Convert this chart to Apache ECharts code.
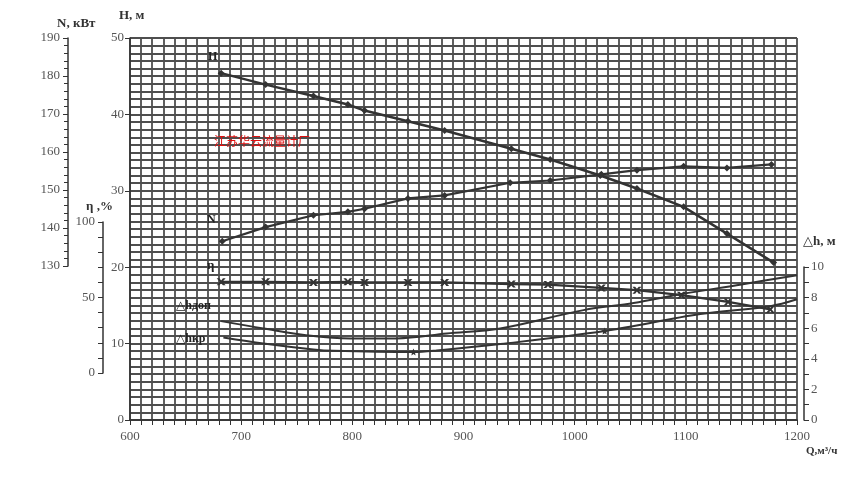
<!DOCTYPE html>
<html><head><meta charset="utf-8">
<script src="https://cdn.jsdelivr.net/npm/echarts@6/dist/echarts.min.js"></script>
<style>html,body{margin:0;padding:0;background:#fff}#c{width:855px;height:483px}</style>
</head><body><div id="c"></div>
<script>
// ---- data ----
const qH   = [682, 722, 765, 796, 811, 850, 883, 943, 978, 1023, 1056, 1098, 1137, 1179];
const hVal = [45.4, 43.9, 42.4, 41.3, 40.5, 39.1, 37.9, 35.5, 34.1, 32.0, 30.3, 27.9, 24.4, 20.6];

const qN   = [683, 722, 765, 796, 811, 850, 883, 942, 978, 1024, 1056, 1098, 1137, 1177];
const nVal = [136.8, 140.5, 143.6, 144.5, 145.3, 148.0, 148.8, 152.1, 152.7, 154.3, 155.4, 156.4, 156.0, 156.9];

const qEta   = [682, 722, 765, 796, 811, 850, 883, 943, 976, 1024, 1056, 1096, 1138, 1176];
const etaVal = [60.5, 60.5, 60.1, 60.5, 60.1, 60.1, 60.1, 59.0, 58.7, 56.5, 55.0, 51.7, 47.2, 42.2];

const qDop   = [682, 720, 765, 798, 840, 885, 933, 1008, 1053, 1096, 1150, 1200];
const dopVal = [6.47, 5.99, 5.49, 5.34, 5.34, 5.66, 5.99, 7.19, 7.65, 8.24, 8.87, 9.48];

const qKr   = [684, 720, 765, 783, 855, 876, 933, 1027, 1113, 1176, 1200];
const krVal = [5.40, 5.01, 4.62, 4.53, 4.45, 4.55, 4.97, 5.82, 6.93, 7.45, 7.90];
const krMarked = [855, 1027];

const xTicks = [600, 700, 800, 900, 1000, 1100, 1200];

// ---- chart ----
const pair = (xs, ys) => xs.map((x, i) => [x, ys[i]]);
const serif = '"Liberation Serif","DejaVu Serif",serif';
const gridCol = '#4f4f4f';
const gridW = 1.8;
const lineCol = '#333';
const lbl = {color: '#555', fontFamily: serif, fontSize: 13};
const asterisk = 'path://M0,0L3,0L5,3L7,0L10,0L6.5,5L10,10L7,10L5,7L3,10L0,10L3.5,5Z';
const star = 'path://M5,0L6.5,3.5L10,4L7.3,6.3L8,10L5,8L2,10L2.7,6.3L0,4L3.5,3.5Z';

const chart = echarts.init(document.getElementById('c'), null, {renderer: 'canvas'});
chart.setOption({
  animation: false,
  backgroundColor: '#fff',
  grid: [
    {left: 130, top: 38, width: 667, height: 382},
    {left: 68, top: 38, width: 1, height: 228},
    {left: 103, top: 222, width: 1, height: 151},
    {left: 804, top: 267, width: 1, height: 153}
  ],
  xAxis: [
    {gridIndex: 0, type: 'value', min: 600, max: 1200, interval: 100,
     axisLine: {show: true, onZero: false, lineStyle: {color: lineCol, width: 1.5}},
     axisTick: {show: true, length: 5, lineStyle: {color: lineCol}},
     minorTick: {show: true, splitNumber: 10, length: 5, lineStyle: {color: lineCol}},
     axisLabel: Object.assign({margin: 10, formatter: v => xTicks.includes(v) ? String(v) : ''}, lbl),
     splitLine: {show: true, lineStyle: {color: gridCol, width: gridW}},
     minorSplitLine: {show: true, lineStyle: {color: gridCol, width: gridW}}},
    {gridIndex: 1, type: 'value', show: false, min: 0, max: 1},
    {gridIndex: 2, type: 'value', show: false, min: 0, max: 1},
    {gridIndex: 3, type: 'value', show: false, min: 0, max: 1}
  ],
  yAxis: [
    {gridIndex: 0, type: 'value', min: 0, max: 50, interval: 10, position: 'left',
     axisLine: {show: true, onZero: false, lineStyle: {color: lineCol, width: 1.5}},
     axisTick: {show: true, length: 5, lineStyle: {color: lineCol}},
     minorTick: {show: false, splitNumber: 10},
     axisLabel: Object.assign({margin: 6}, lbl),
     splitLine: {show: true, lineStyle: {color: gridCol, width: gridW}},
     minorSplitLine: {show: true, lineStyle: {color: gridCol, width: gridW}}},
    {gridIndex: 0, type: 'value', min: 90, max: 190, show: false, splitLine: {show: false}},
    {gridIndex: 0, type: 'value', min: -31.1, max: 222.2, show: false, splitLine: {show: false}},
    {gridIndex: 0, type: 'value', min: 0, max: 25, show: false, splitLine: {show: false}},
    {gridIndex: 1, type: 'value', min: 130, max: 190, interval: 10, position: 'left',
     axisLine: {show: true, lineStyle: {color: lineCol, width: 1.5}},
     axisTick: {show: true, length: 5, lineStyle: {color: lineCol}},
     minorTick: {show: true, splitNumber: 5, length: 4, lineStyle: {color: lineCol}},
     axisLabel: Object.assign({margin: 8}, lbl), splitLine: {show: false}},
    {gridIndex: 2, type: 'value', min: 0, max: 100, interval: 10, position: 'left',
     axisLine: {show: true, lineStyle: {color: lineCol, width: 1.5}},
     axisTick: {show: true, length: 5, lineStyle: {color: lineCol}},
     axisLabel: Object.assign({margin: 8, formatter: v => v % 50 === 0 ? String(v) : ''}, lbl),
     splitLine: {show: false}},
    {gridIndex: 3, type: 'value', min: 0, max: 10, interval: 1, position: 'right',
     axisLine: {show: true, lineStyle: {color: lineCol, width: 1.5}},
     axisTick: {show: true, length: 5, lineStyle: {color: lineCol}},
     axisLabel: Object.assign({margin: 6, formatter: v => v % 2 === 0 ? String(v) : ''}, lbl),
     splitLine: {show: false}}
  ],
  series: [
    {name: 'H', type: 'line', xAxisIndex: 0, yAxisIndex: 0, data: pair(qH, hVal),
     symbol: 'diamond', symbolSize: 7, lineStyle: {color: lineCol, width: 2.5},
     itemStyle: {color: lineCol}},
    {name: 'N', type: 'line', xAxisIndex: 0, yAxisIndex: 1, data: pair(qN, nVal),
     symbol: 'diamond', symbolSize: 7, lineStyle: {color: lineCol, width: 2.2},
     itemStyle: {color: lineCol}},
    {name: 'η', type: 'line', xAxisIndex: 0, yAxisIndex: 2, data: pair(qEta, etaVal),
     symbol: asterisk, symbolSize: [9, 7], lineStyle: {color: lineCol, width: 2.2},
     itemStyle: {color: lineCol}},
    {name: 'Δhдоп', type: 'line', xAxisIndex: 0, yAxisIndex: 3, data: pair(qDop, dopVal),
     smooth: 0.35, showSymbol: false, symbol: 'none', lineStyle: {color: lineCol, width: 2}},
    {name: 'Δhкр', type: 'line', xAxisIndex: 0, yAxisIndex: 3,
     data: qKr.map((q, i) => krMarked.includes(q)
       ? {value: [q, krVal[i]], symbol: star, symbolSize: 7}
       : {value: [q, krVal[i]], symbol: 'none'}),
     smooth: 0.35, lineStyle: {color: lineCol, width: 2}, itemStyle: {color: lineCol}}
  ],
  graphic: [
    {type: 'text', z: 100, left: 57, top: 17, style: {text: 'N, кВт', font: 'bold 13px ' + serif, fill: '#333'}},
    {type: 'text', z: 100, left: 119, top: 9, style: {text: 'H, м', font: 'bold 13px ' + serif, fill: '#333'}},
    {type: 'text', z: 100, left: 86, top: 200, style: {text: 'η ,%', font: 'bold 13px ' + serif, fill: '#333'}},
    {type: 'text', z: 100, left: 803, top: 235, style: {text: '△h, м', font: 'bold 13px ' + serif, fill: '#333'}},
    {type: 'text', z: 100, left: 806, top: 446, style: {text: 'Q,м³/ч', font: 'bold 11px ' + serif, fill: '#333'}},
    {type: 'text', z: 100, left: 208, top: 51, style: {text: 'H', font: 'bold 12px ' + serif, fill: '#222'}},
    {type: 'text', z: 100, left: 207, top: 214, style: {text: 'N', font: 'bold 12px ' + serif, fill: '#222'}},
    {type: 'text', z: 100, left: 207, top: 259, style: {text: 'η', font: 'bold 13px ' + serif, fill: '#222'}},
    {type: 'text', z: 100, left: 176, top: 300, style: {text: '△hдоп', font: 'bold 12px ' + serif, fill: '#222'}},
    {type: 'text', z: 100, left: 176, top: 333, style: {text: '△hкр', font: 'bold 12px ' + serif, fill: '#222'}},
    {type: 'text', z: 100, left: 214, top: 135, style: {text: '江苏华云流量计厂', font: '12px "Noto Sans CJK SC"', fill: '#e01010'}}
  ]
});
</script>
</body></html>
